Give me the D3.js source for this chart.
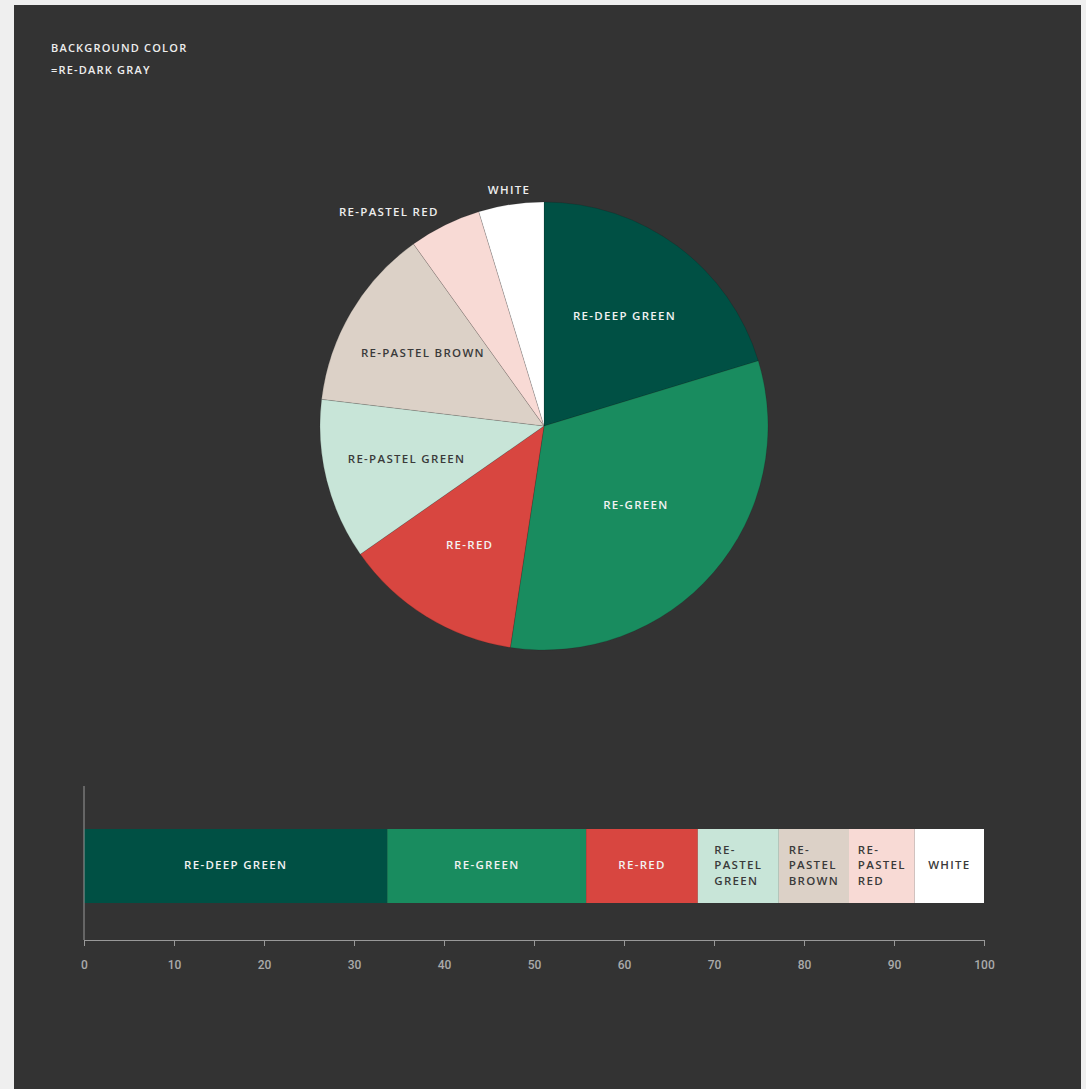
<!DOCTYPE html>
<html>
<head>
<meta charset="utf-8">
<script src="https://cdn.jsdelivr.net/npm/d3@7"></script>
<style>
  body { margin: 0; background: #efefef; }
  text { font-family: "Open Sans", sans-serif; font-weight: 600; letter-spacing: 1.3px; }
</style>
</head>
<body>
<div id="vis"></div>
<script>
// page size
const FRAME_WIDTH = 1086;
const FRAME_HEIGHT = 1089;

// data
const CATEGORIES = ["RE-DEEP GREEN", "RE-GREEN", "RE-RED", "RE-PASTEL GREEN",
                    "RE-PASTEL BROWN", "RE-PASTEL RED", "WHITE"];
const PIE_VALUES = [20.3, 32.1, 12.9, 11.6, 13.2, 5.2, 4.7];
const BAR_VALUES = [33.7, 22.1, 12.4, 9.0, 7.8, 7.3, 7.7];
const X_TICKS = [0, 10, 20, 30, 40, 50, 60, 70, 80, 90, 100];

const COLORS = ["#005044", "#198c5f", "#d84640", "#c8e5d8", "#dcd1c7", "#f8dad5", "#ffffff"];
const TEXT_COLORS = ["#f2f2f2", "#f2f2f2", "#f2f2f2", "#3a3a3a", "#3a3a3a", "#3a3a3a", "#3a3a3a"];

const FRAME = d3.select("#vis")
                .append("svg")
                  .attr("width", FRAME_WIDTH)
                  .attr("height", FRAME_HEIGHT);

// dark panel
FRAME.append("rect")
     .attr("x", 14).attr("y", 5)
     .attr("width", 1067).attr("height", FRAME_HEIGHT - 5)
     .attr("fill", "#333333");

// heading
FRAME.append("text").attr("x", 51).attr("y", 52)
     .attr("fill", "#eeeeee").attr("font-size", "11px")
     .style("letter-spacing", "1.2px")
     .text("BACKGROUND COLOR");
FRAME.append("text").attr("x", 51).attr("y", 74)
     .attr("fill", "#eeeeee").attr("font-size", "11px")
     .style("letter-spacing", "1.2px")
     .text("=RE-DARK GRAY");

// ---------- pie ----------
const CX = 544, CY = 426, R = 224;
const pieData = d3.pie().sort(null)(PIE_VALUES)
                  .map((p, i) => Object.assign(p, { i: i }));

const arc = d3.arc().innerRadius(0).outerRadius(R);

// label sits near the area centroid of the slice
function labelPos(d) {
  const a = d.endAngle - d.startAngle;
  const mid = (d.startAngle + d.endAngle) / 2;
  const outside = a < 0.5;
  const r = outside ? 238 : 0.97 * 4 * R * Math.sin(a / 2) / (3 * a);
  return { x: r * Math.sin(mid), y: -r * Math.cos(mid), outside: outside, mid: mid };
}

const PIE = FRAME.append("g").attr("transform", "translate(" + CX + "," + CY + ")");

PIE.selectAll("path")
   .data(pieData)
   .enter()
   .append("path")
     .attr("d", arc)
     .attr("fill", d => COLORS[d.i])
     .attr("stroke", "rgba(0,0,0,0.25)")
     .attr("stroke-width", 0.5);

PIE.selectAll(".pie-label")
   .data(pieData)
   .enter()
   .append("text")
     .attr("class", "pie-label")
     .attr("font-size", "11.5px")
     .attr("dominant-baseline", "middle")
     .each(function (d) {
       const p = labelPos(d);
       d3.select(this)
         .attr("x", p.x)
         .attr("y", p.y)
         .attr("text-anchor", p.outside && Math.sin(p.mid) < -0.3 ? "end" : "middle")
         .attr("fill", p.outside ? "#eeeeee" : TEXT_COLORS[d.i])
         .text(CATEGORIES[d.i]);
     });

// ---------- stacked bar ----------
const X_SCALE = d3.scaleLinear().domain([0, 100]).range([84, 984]);
const BAR_Y = 829, BAR_H = 74;

let acc = 0;
const barData = BAR_VALUES.map((v, i) => {
  const d = { i: i, x0: acc, x1: acc + v };
  acc += v;
  return d;
});

FRAME.selectAll(".bar")
     .data(barData)
     .enter()
     .append("rect")
       .attr("class", "bar")
       .attr("x", d => X_SCALE(d.x0))
       .attr("y", BAR_Y)
       .attr("width", d => X_SCALE(d.x1) - X_SCALE(d.x0))
       .attr("height", BAR_H)
       .attr("fill", d => COLORS[d.i]);

// bar labels, wrapped when the segment is narrow
barData.forEach(d => {
  const x0 = X_SCALE(d.x0), x1 = X_SCALE(d.x1);
  const name = CATEGORIES[d.i];
  const t = FRAME.append("text")
                 .attr("font-size", "11.5px")
                 .attr("fill", TEXT_COLORS[d.i])
                 .attr("x", 0).attr("y", 0)
                 .text(name);
  const w = t.node().getComputedTextLength();
  if (w < (x1 - x0) - 16) {
    t.attr("x", (x0 + x1) / 2).attr("y", BAR_Y + BAR_H / 2)
     .attr("text-anchor", "middle").attr("dominant-baseline", "middle");
  } else {
    const words = name.replace("-", "- ").split(" ").filter(s => s.length);
    t.text(null);
    words.forEach((wd, k) => {
      t.append("tspan").attr("x", 0)
       .attr("y", (k - (words.length - 1) / 2) * 15.5)
       .attr("dominant-baseline", "middle")
       .text(wd);
    });
    const bw = t.node().getBBox().width;
    t.attr("transform", "translate(" + ((x0 + x1) / 2 - bw / 2) + "," + (BAR_Y + BAR_H / 2) + ")");
  }
});

// axes
FRAME.append("line")
     .attr("x1", 84).attr("x2", 84)
     .attr("y1", 786).attr("y2", 940)
     .attr("stroke", "#999999").attr("stroke-width", 1);

const xAxis = FRAME.append("g")
                   .attr("transform", "translate(0,940)")
                   .call(d3.axisBottom(X_SCALE).tickValues(X_TICKS).tickSize(6).tickSizeOuter(0).tickPadding(14));
xAxis.select(".domain").attr("stroke", "#999999");
xAxis.selectAll(".tick line").attr("stroke", "#999999");
xAxis.selectAll(".tick text")
     .attr("fill", "#aaaaaa")
     .attr("font-size", "12px")
     .style("font-family", "Roboto, sans-serif")
     .style("font-weight", "500")
     .style("letter-spacing", "0px");
</script>
</body>
</html>
